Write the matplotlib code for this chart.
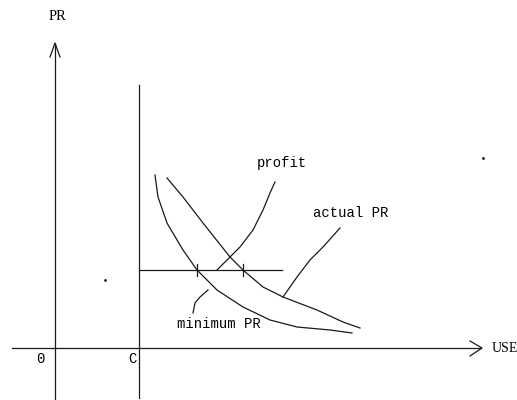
import matplotlib
matplotlib.use("Agg")
import matplotlib.pyplot as plt

# sketch in pixel coordinates (origin top-left)
min_x = [155, 158, 167, 183, 197, 217, 243, 270, 297, 330, 352]
min_y = [175, 197, 223, 250, 270, 290, 307, 320, 327, 330, 333]
act_x = [167, 183, 203, 230, 243, 263, 283, 317, 343, 360]
act_y = [178, 197, 223, 257, 270, 287, 297, 310, 322, 328]
profit_x = [217, 230, 240, 253, 263, 270, 275]
profit_y = [270, 257, 247, 230, 210, 193, 182]
actlead_x = [283, 297, 310, 323, 340]
actlead_y = [297, 277, 260, 247, 228]
minlead_x = [208, 200, 195, 193]
minlead_y = [290, 297, 303, 313]
ticks_x = [197, 243]

fig = plt.figure(figsize=(5.17, 4.0), dpi=100)
ax = fig.add_axes([0, 0, 1, 1])
ax.set_xlim(0, 517)
ax.set_ylim(400, 0)
ax.axis('off')

lc = '#1a1a1a'
lw = 0.9
# axes
ax.plot([55, 55], [400, 44], color=lc, lw=lw)
ax.plot([50, 55, 60], [57, 43, 57], color=lc, lw=lw)
ax.plot([12, 481], [348, 348], color=lc, lw=lw)
ax.plot([470, 482, 470], [341, 348, 356], color=lc, lw=lw)
ax.plot([139, 139], [85, 398], color=lc, lw=lw)
ax.plot([139, 282], [270, 270], color=lc, lw=lw)
for tx in ticks_x:
    ax.plot([tx, tx], [264, 276], color=lc, lw=lw)

# curves
ax.plot(min_x, min_y, color=lc, lw=lw)
ax.plot(act_x, act_y, color=lc, lw=lw)
ax.plot(profit_x, profit_y, color=lc, lw=lw)
ax.plot(actlead_x, actlead_y, color=lc, lw=lw)
ax.plot(minlead_x, minlead_y, color=lc, lw=lw)

# stray dots
ax.plot([105, 483], [280, 158], 'o', color=lc, ms=1)

mono = 'Liberation Mono'
serif = 'Liberation Serif'
ax.text(57, 16, 'PR', family=serif, fontsize=10.5, ha='center', va='center', color='black')
ax.text(492, 349, 'USE', family=serif, fontsize=10, ha='left', va='center', color='black')
ax.text(40, 359, '0', family=mono, fontsize=10, ha='center', va='center', color='black')
ax.text(132, 359, 'C', family=mono, fontsize=10, ha='center', va='center', color='black')
ax.text(282, 163, 'profit', family=mono, fontsize=10, ha='center', va='center', color='black')
ax.text(351, 213, 'actual PR', family=mono, fontsize=10, ha='center', va='center', color='black')
ax.text(219, 324, 'minimum PR', family=mono, fontsize=10, ha='center', va='center', color='black')

fig.savefig('out.png', dpi=100)
